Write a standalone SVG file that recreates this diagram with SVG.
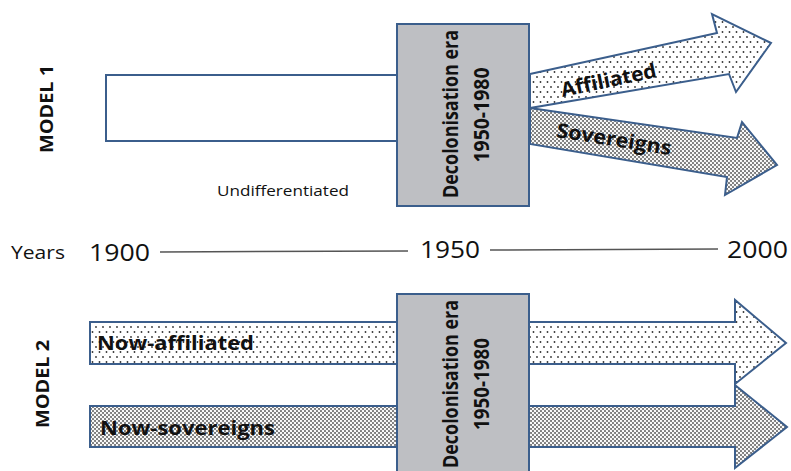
<svg xmlns="http://www.w3.org/2000/svg" width="791" height="471" viewBox="0 0 791 471">
<style>
.edge{stroke:#3b5e8c;stroke-width:2;stroke-linejoin:miter}
.box{fill:#bebfc3;stroke:#3b5e8c;stroke-width:2}
.dots{fill:url(#dots)}
.mesh{fill:url(#mesh)}
.b{font-family:"Open Sans","Liberation Sans",sans-serif;font-weight:bold;fill:#111}
.r{font-family:"Open Sans","Liberation Sans",sans-serif;fill:#111}
.tl{stroke:#555;stroke-width:1.5}
</style>
<defs>
<pattern id="dots" width="7" height="10" patternUnits="userSpaceOnUse">
<rect width="7" height="10" fill="#fff"/>
<circle cx="1.5" cy="2" r="0.9" fill="#333"/>
<circle cx="5" cy="7" r="0.9" fill="#333"/>
</pattern>
<pattern id="mesh" width="4" height="4" patternUnits="userSpaceOnUse">
<rect width="4" height="4" fill="#7c7c7c"/>
<circle cx="1" cy="1" r="1.15" fill="#fff"/>
<circle cx="3" cy="3" r="1.15" fill="#fff"/>
</pattern>
</defs>

<g id="labels">
<text class="b" font-size="18" transform="translate(53,109) rotate(-90)" text-anchor="middle" textLength="88" lengthAdjust="spacingAndGlyphs">MODEL  1</text>
<text class="b" font-size="18" transform="translate(49,384) rotate(-90)" text-anchor="middle" textLength="88" lengthAdjust="spacingAndGlyphs">MODEL  2</text>
</g>

<g id="undifferentiated">
<rect x="106" y="75" width="292" height="66" fill="#fff" class="edge"/>
<text class="r" x="217" y="196" font-size="15" textLength="132" lengthAdjust="spacingAndGlyphs">Undifferentiated</text>
</g>

<g id="affiliated">
<polygon class="edge dots" points="530,74 717,33 712,14 771,43 736,92 729,74 530,108"/>
<text class="b" font-size="20" transform="translate(610,87) rotate(-12)" text-anchor="middle" textLength="97" lengthAdjust="spacingAndGlyphs">Affiliated</text>
</g>

<g id="sovereigns">
<polygon class="edge mesh" points="530,108 737,138 742,122 777,165 725,195 727,177 530,144"/>
<text class="b" font-size="20" transform="translate(613,146) rotate(9)" text-anchor="middle" textLength="116" lengthAdjust="spacingAndGlyphs">Sovereigns</text>
</g>

<g id="era1">
<rect class="box" x="397" y="24" width="132" height="182"/>
<text class="b" font-size="21" transform="translate(458,114) rotate(-90)" text-anchor="middle" textLength="168" lengthAdjust="spacingAndGlyphs">Decolonisation era</text>
<text class="b" font-size="21" transform="translate(489,115) rotate(-90)" text-anchor="middle" textLength="95" lengthAdjust="spacingAndGlyphs">1950-1980</text>
</g>

<g id="timeline">
<text class="r" x="11" y="259" font-size="19" textLength="54" lengthAdjust="spacingAndGlyphs">Years</text>
<text class="r" x="89" y="261" font-size="24" textLength="61" lengthAdjust="spacingAndGlyphs">1900</text>
<text class="r" x="420" y="258" font-size="24" textLength="60" lengthAdjust="spacingAndGlyphs">1950</text>
<text class="r" x="727" y="258" font-size="24" textLength="61" lengthAdjust="spacingAndGlyphs">2000</text>
</g>

<g id="now-affiliated">
<polygon class="edge dots" points="90,322 735,322 735,300 786,343 735,384 735,364 90,364"/>
<text class="b" x="97" y="350" font-size="20" textLength="157" lengthAdjust="spacingAndGlyphs">Now-affiliated</text>
</g>

<g id="now-sovereigns">
<polygon class="edge mesh" points="90,406 735,406 735,385 787,427 735,468 735,447 90,447"/>
<text class="b" x="100" y="435" font-size="20" textLength="175" lengthAdjust="spacingAndGlyphs">Now-sovereigns</text>
</g>

<g id="era2">
<rect class="box" x="397" y="294" width="132" height="200"/>
<text class="b" font-size="21" transform="translate(458,384) rotate(-90)" text-anchor="middle" textLength="168" lengthAdjust="spacingAndGlyphs">Decolonisation era</text>
<text class="b" font-size="21" transform="translate(489,384) rotate(-90)" text-anchor="middle" textLength="92" lengthAdjust="spacingAndGlyphs">1950-1980</text>
</g>

<g id="connectors">
<line class="tl" x1="160" y1="252" x2="408" y2="251"/>
<line class="tl" x1="490" y1="250" x2="718" y2="249"/>
</g>
</svg>
